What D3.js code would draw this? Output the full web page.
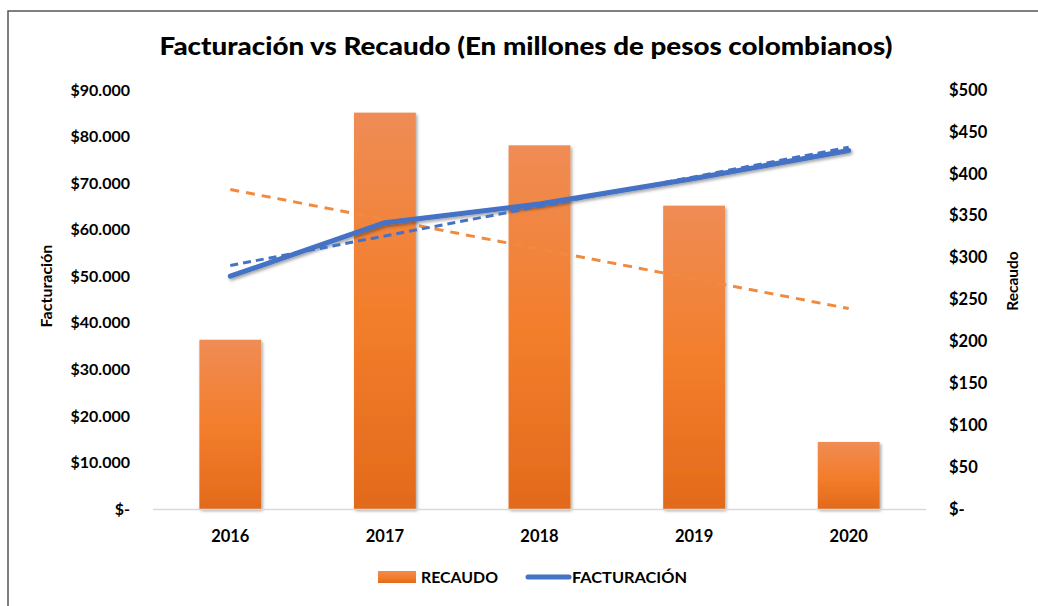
<!DOCTYPE html>
<html><head><meta charset="utf-8">
<script src="https://cdn.jsdelivr.net/npm/d3@7"></script>
<style>
html,body{margin:0;padding:0;background:#fff;}
text{font-family:Lato,"Open Sans",sans-serif;font-weight:700;fill:#000;}
</style></head>
<body><svg id="c" width="1038" height="606"></svg>
<script>
const years = ["2016","2017","2018","2019","2020"];
const recaudo = [202, 473, 434, 362, 80];
const facturacion = [50000, 61500, 65500, 71000, 77000];
const leftTicks = [0,10000,20000,30000,40000,50000,60000,70000,80000,90000];
const rightTicks = [0,50,100,150,200,250,300,350,400,450,500];

const svg = d3.select("#c");
const defs = svg.append("defs");
const g1 = defs.append("linearGradient").attr("id","barGrad").attr("x1",0).attr("y1",0).attr("x2",0).attr("y2",1);
g1.append("stop").attr("offset","0%").attr("stop-color","#EF8C55");
g1.append("stop").attr("offset","50%").attr("stop-color","#F37E2C");
g1.append("stop").attr("offset","100%").attr("stop-color","#E26A1B");
const f = defs.append("filter").attr("id","sh").attr("x","-20%").attr("y","-20%").attr("width","140%").attr("height","140%");
f.append("feDropShadow").attr("dx",1.5).attr("dy",2).attr("stdDeviation",1.5).attr("flood-color","#000").attr("flood-opacity",0.35);

// frame
svg.append("rect").attr("x",8).attr("y",11).attr("width",1040).attr("height",610)
  .attr("fill","none").attr("stroke","#555").attr("stroke-width",1.5);

const x = d3.scaleBand().domain(years).range([153,926]).paddingInner(0.6).paddingOuter(0.3);
const xc = d => x(d) + x.bandwidth()/2;
const yL = d3.scaleLinear().domain([0,90000]).range([509,90]);
const yR = d3.scaleLinear().domain([0,500]).range([509,90]);

// title
svg.append("text").attr("x",526).attr("y",55).attr("text-anchor","middle")
  .attr("font-size",25).attr("textLength",733).attr("lengthAdjust","spacingAndGlyphs")
  .style("font-weight","900")
  .text("Facturación vs Recaudo (En millones de pesos colombianos)");

// axes
const fmtL = d => d===0 ? "$-" : "$" + d3.format(",")(d).replace(/,/g,".");
const fmtR = d => d===0 ? "$-" : "$" + d;
const axL = svg.append("g").attr("transform","translate(130,0)")
  .call(d3.axisLeft(yL).tickValues(leftTicks).tickFormat(fmtL).tickSize(0).tickPadding(0));
axL.select(".domain").remove();
axL.selectAll("text").attr("font-size",16).style("font-family","Lato").style("font-weight","700").attr("fill","#000");
const axR = svg.append("g").attr("transform","translate(949,0)")
  .call(d3.axisRight(yR).tickValues(rightTicks).tickFormat(fmtR).tickSize(0).tickPadding(0));
axR.select(".domain").remove();
axR.selectAll("text").attr("font-size",16.5).style("font-family","Lato").style("font-weight","700").attr("fill","#000");

// bars
svg.append("g").selectAll("rect").data(years).join("rect")
  .attr("x",d=>x(d)).attr("width",x.bandwidth())
  .attr("y",(d,i)=>yR(recaudo[i])).attr("height",(d,i)=>yR(0)-yR(recaudo[i]))
  .attr("fill","url(#barGrad)").attr("filter","url(#sh)");

// category axis line
svg.append("line").attr("x1",153).attr("x2",926).attr("y1",509.5).attr("y2",509.5)
  .attr("stroke","#D9D9D9").attr("stroke-width",1.5);

const xAx = svg.append("g").attr("transform","translate(0,530)")
  .call(d3.axisBottom(x).tickSize(0).tickPadding(0));
xAx.select(".domain").remove();
xAx.selectAll("text").attr("font-size",16.5).attr("dy","0.71em").style("font-family","Lato").style("font-weight","700").attr("fill","#000");

// trendlines (least squares of each series)
function trend(vals){
  const n=vals.length, xs=d3.range(n);
  const mx=d3.mean(xs), my=d3.mean(vals);
  const b=d3.sum(xs,(xx,i)=>(xx-mx)*(vals[i]-my))/d3.sum(xs,xx=>(xx-mx)*(xx-mx));
  const a=my-b*mx;
  return [a, a+b*(n-1)];
}
const tr = trend(recaudo), tf = trend(facturacion);
svg.append("line").attr("x1",xc(years[0])).attr("x2",xc(years[4]))
  .attr("y1",yR(tr[0])).attr("y2",yR(tr[1]))
  .attr("stroke","#F08A3E").attr("stroke-width",3).attr("stroke-dasharray","9,7");

// facturacion line
const line = d3.line().x((d,i)=>xc(years[i])).y(d=>yL(d));
svg.append("path").datum(facturacion).attr("d",line).attr("fill","none")
  .attr("stroke","#4472C4").attr("stroke-width",5).attr("stroke-linecap","round").attr("stroke-linejoin","round")
  .attr("filter","url(#sh)");
svg.append("line").attr("x1",xc(years[0])).attr("x2",xc(years[4]))
  .attr("y1",yL(tf[0])).attr("y2",yL(tf[1]))
  .attr("stroke","#4472C4").attr("stroke-width",3).attr("stroke-dasharray","8,5");

// axis titles
svg.append("text").attr("transform","translate(52,286) rotate(-90)").attr("text-anchor","middle")
  .attr("font-size",16).text("Facturación");
svg.append("text").attr("transform","translate(1018,281) rotate(-90)").attr("text-anchor","middle")
  .attr("font-size",15.5).text("Recaudo");

// legend
svg.append("rect").attr("x",378).attr("y",571).attr("width",38).attr("height",12).attr("fill","url(#barGrad)");
svg.append("text").attr("x",421).attr("y",583).attr("font-size",15).attr("textLength",77).attr("lengthAdjust","spacingAndGlyphs").text("RECAUDO");
svg.append("line").attr("x1",528).attr("x2",569).attr("y1",577).attr("y2",577)
  .attr("stroke","#4472C4").attr("stroke-width",5).attr("stroke-linecap","round");
svg.append("text").attr("x",572).attr("y",583).attr("font-size",15).attr("textLength",115).attr("lengthAdjust","spacingAndGlyphs").text("FACTURACIÓN");
</script></body></html>
